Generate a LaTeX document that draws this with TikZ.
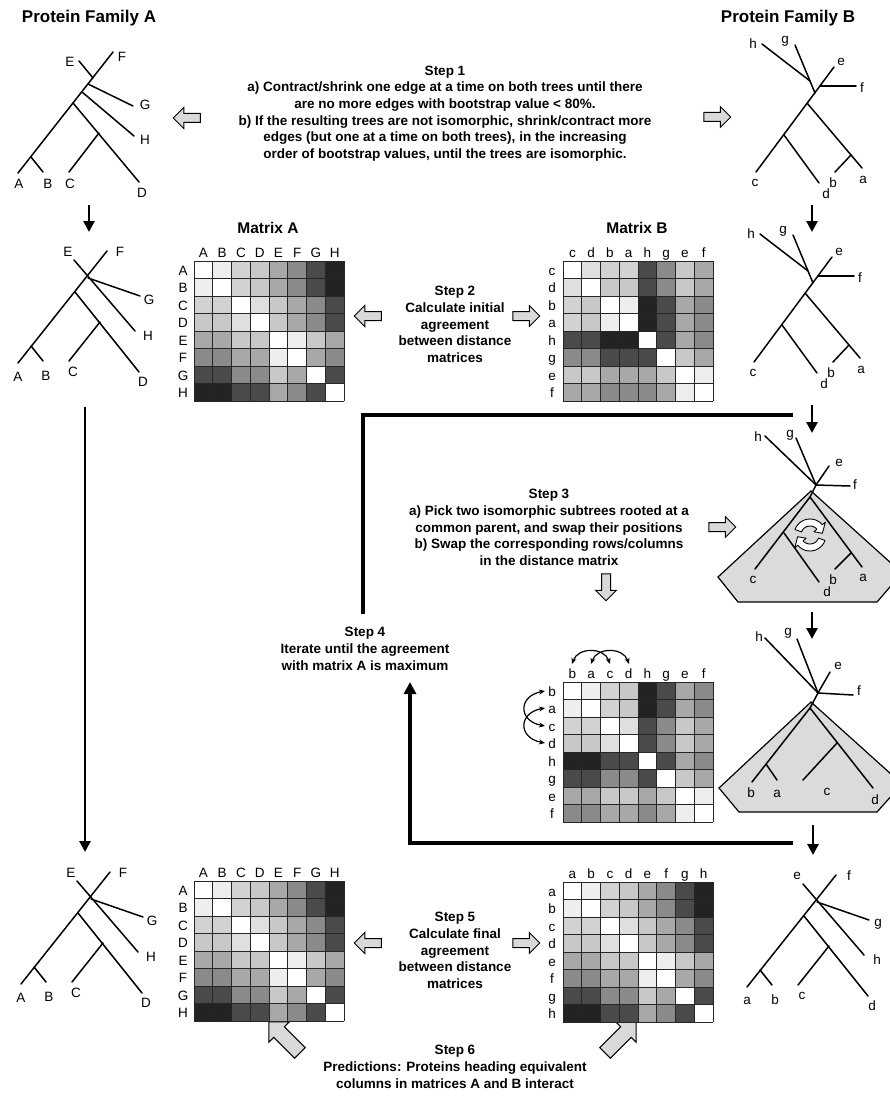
\documentclass[tikz,border=0pt]{standalone}
\usepackage{fontspec}
\setmainfont{Liberation Sans}
\setsansfont{Liberation Sans}
\usetikzlibrary{shapes.arrows,arrows.meta}
\definecolor{lv0}{HTML}{FFFFFF}
\definecolor{lv1}{HTML}{EEEEEE}
\definecolor{lv2}{HTML}{DFDFDF}
\definecolor{lv3}{HTML}{D2D2D2}
\definecolor{lv4}{HTML}{C8C8C8}
\definecolor{lv5}{HTML}{A8A8A8}
\definecolor{lv6}{HTML}{8A8A8A}
\definecolor{lv7}{HTML}{4A4A4A}
\definecolor{lv8}{HTML}{232323}
\tikzset{
 br/.style={line width=1.5pt, line cap=round},
 tl/.style={font=\fontsize{13.5}{15}\selectfont, inner sep=0pt},
 mlab/.style={font=\fontsize{13.5}{15}\selectfont, inner sep=0pt},
 txt/.style={font=\bfseries\fontsize{13.5}{16.7}\selectfont, align=center, inner sep=0pt},
 ttl/.style={font=\bfseries\fontsize{17}{19}\selectfont, inner sep=0pt},
 mttl/.style={font=\bfseries\fontsize{15.5}{17}\selectfont, inner sep=0pt},
 flow/.style={line width=2.8pt, -{Triangle[width=11pt,length=11pt]}},
 loopl/.style={line width=3.5pt},
 gridl/.style={line width=1pt, draw=black!85},
 blk/.style={single arrow, draw=black, line width=1pt, fill=black!15, inner sep=4pt, minimum height=27pt, single arrow head extend=6pt, anchor=center},
 bigblk/.style={blk, inner sep=7pt, minimum height=44pt, single arrow head extend=7pt},
 poly/.style={draw=black, line width=1.2pt, fill=black!14, line join=miter},
 swp/.style={draw=black, line width=0.9pt, fill=white, line join=round},
 sarr/.style={line width=1.2pt, {Stealth[length=6pt,width=5pt]}-{Stealth[length=6pt,width=5pt]}},
}
\newcommand{\drawmat}[6]{%
  \foreach \r [count=\i from 0] in {#6} {
    \foreach \v [count=\j from 0] in \r {
      \fill[fill=lv\v] ({#2+\j*18.75},{#3+\i*17.5}) rectangle ++(18.75,17.5);
    }
  }
  \foreach \k in {0,...,8} {
    \draw[gridl] ({#2+\k*18.75},#3) -- ++(0,140);
    \draw[gridl] (#2,{#3+\k*17.5}) -- ++(150,0);
  }
  \foreach \l [count=\j from 0] in {#4} {
    \node[mlab, anchor=base] (#1c\j) at ({#2+\j*18.75+9.375},{#3-3.5}) {\l};
  }
  \foreach \l [count=\i from 0] in {#5} {
    \node[mlab, anchor=base] (#1r\i) at ({#2-11},{#3+\i*17.5+8.75+5.5}) {\l};
  }
}
\newcommand{\finaltree}[9]{%
  \draw[br] (0,0) -- (-89,112);
  \draw[br] (-33,9) -- (28,80);
  \draw[br] (-19,27) -- (33,45);
  \draw[br] (-32,41) -- (32,121);
  \draw[br] (-7,71) -- (-38,110);
  \draw[br] (-76,95) -- (-64,110);
  \node[tl] (#1a) at (-89,126) {#2};
  \node[tl] (#1b) at (-61,125) {#3};
  \node[tl] (#1c) at (-34,121) {#4};
  \node[tl] (#1d) at (36,131) {#5};
  \node[tl] (#1e) at (-39,1) {#6};
  \node[tl] (#1f) at (13,1) {#7};
  \node[tl] (#1g) at (42,49) {#8};
  \node[tl] (#1h) at (41,85) {#9};
}
\newcommand{\topBtree}[1]{%
  \draw[br] (834,67) -- (756,172);
  \draw[br] (820,86) -- (856,86);
  \draw[br] (795,45) -- (815,93);
  \draw[br] (762,44) -- (810,81);
  \draw[br] (807,103) -- (862,168);
  \draw[br] (784,135) -- (819,183);
  \draw[br] (851,155) -- (835,172);
  \node[tl] (#1h) at (753,44) {h};
  \node[tl] (#1g) at (785,41) {g};
  \node[tl] (#1e) at (841,62) {e};
  \node[tl] (#1f) at (862,88) {f};
  \node[tl] (#1c) at (755,183) {c};
  \node[tl] (#1d) at (826,194) {d};
  \node[tl] (#1b) at (833,183) {b};
  \node[tl] (#1a) at (863,180) {a};
}
\begin{document}
\begin{tikzpicture}[x=1pt,y=-1pt]
\useasboundingbox (0,0) rectangle (890,1097);
\fill[white] (0,0) rectangle (890,1097);

% titles
\node[ttl] (tA) at (89,18) {Protein Family A};
\node[ttl] (tB) at (788,18) {Protein Family B};
\node[mttl] (mA) at (268,228) {Matrix A};
\node[mttl] (mB) at (637,228) {Matrix B};

% step texts
\node[txt] (s1) at (445,113.5) {Step 1\\a) Contract/shrink one edge at a time on both trees until there\\are no more edges with bootstrap value {<} 80\%.\\b) If the resulting trees are not isomorphic, shrink/contract more\\edges (but one at a time on both trees), in the increasing\\order of bootstrap values, until the trees are isomorphic.};
\node[txt] (s2) at (455,324.5) {Step 2\\Calculate initial\\agreement\\between distance\\matrices};
\node[txt] (s3) at (549,527.4) {Step 3\\a) Pick two isomorphic subtrees rooted at a\\common parent, and swap their positions\\b) Swap the corresponding rows/columns\\in the distance matrix};
\node[txt] (s4) at (365,649) {Step 4\\Iterate until the agreement\\with matrix A is maximum};
\node[txt] (s5) at (455,950.4) {Step 5\\Calculate final\\agreement\\between distance\\matrices};
\node[txt] (s6) at (455,1067) {Step 6\\Predictions: Proteins heading equivalent\\columns in matrices A and B interact};

% block arrows
\node[blk, shape border rotate=180] (b1l) at (189,118) {};
\node[blk] (b1r) at (715,117) {};
\node[blk, shape border rotate=180] (b2l) at (370,316) {};
\node[blk] (b2r) at (524,316) {};
\node[blk] (b3r) at (720,527) {};
\node[blk, shape border rotate=270] (b3d) at (606,585) {};
\node[blk, shape border rotate=180] (b5l) at (370,943) {};
\node[blk] (b5r) at (524,943) {};
\node[bigblk, rotate=135] (b6l) at (287,1040) {};
\node[bigblk, rotate=45] (b6r) at (618,1040) {};

% tree A1
\draw[br] (113,52) -- (18,173);
\draw[br] (79,61) -- (93,78);
\draw[br] (88,84) -- (133,106);
\draw[br] (82,92) -- (134,136);
\draw[br] (73,103) -- (139,182);
\draw[br] (99,133) -- (69,172);
\draw[br] (31,157) -- (43,172);
\node[tl] (a1E) at (70,62) {E};
\node[tl] (a1F) at (122,57) {F};
\node[tl] (a1G) at (145,105) {G};
\node[tl] (a1H) at (145,140) {H};
\node[tl] (a1D) at (142,193) {D};
\node[tl] (a1C) at (70,184) {C};
\node[tl] (a1B) at (48,184) {B};
\node[tl] (a1A) at (19,184) {A};

% tree A2
\begin{scope}[shift={(107,251)}]
\finaltree{a2}{A}{B}{C}{D}{E}{F}{G}{H}
\end{scope}
% tree A3
\begin{scope}[shift={(110,872)}]
\finaltree{a3}{A}{B}{C}{D}{E}{F}{G}{H}
\end{scope}
% tree B5
\begin{scope}[shift={(836,875)}]
\finaltree{b5}{a}{b}{c}{d}{e}{f}{g}{h}
\end{scope}

% trees B1, B2
\topBtree{b1}
\begin{scope}[shift={(-2,190)}]
\topBtree{b2}
\end{scope}

% tree B3 with polygon
\draw[poly] (811,491) -- (902,573) -- (877,602) -- (738,602) -- (718,577) -- cycle;
\draw[br] (765,436) -- (816,485);
\draw[br] (796,438) -- (816,485);
\draw[br] (829,466) -- (816,485);
\draw[br] (816,485) -- (850,486);
\draw[br] (816,485) -- (810,497);
\draw[br] (810,497) -- (755,569);
\draw[br] (810,497) -- (862,567);
\draw[br] (784,533) -- (819,582);
\draw[br] (851,553) -- (835,569);
\node[tl] (b3h) at (758,437) {h};
\node[tl] (b3g) at (790,435) {g};
\node[tl] (b3e) at (839,463) {e};
\node[tl] (b3f) at (855,485) {f};
\node[tl] (b3c) at (753,580) {c};
\node[tl] (b3d) at (827,592) {d};
\node[tl] (b3b) at (833,580) {b};
\node[tl] (b3a) at (863,578) {a};
% swap symbol
\begin{scope}[shift={(810,535)}]
\draw[swp] plot[domain=200:320,samples=13] ({16*cos(\x)},{16*sin(\x)}) -- (320:20) -- (352:12.5) -- (320:5) -- plot[domain=320:200,samples=13] ({9*cos(\x)},{9*sin(\x)}) -- cycle;
\draw[swp] plot[domain=20:140,samples=13] ({16*cos(\x)},{16*sin(\x)}) -- (140:20) -- (172:12.5) -- (140:5) -- plot[domain=140:20,samples=13] ({9*cos(\x)},{9*sin(\x)}) -- cycle;
\end{scope}

% tree B4 with polygon
\draw[poly] (811,702) -- (902,784) -- (877,812) -- (739,812) -- (719,788) -- cycle;
\draw[br] (765,638) -- (818,693);
\draw[br] (797,639) -- (818,693);
\draw[br] (830,672) -- (818,693);
\draw[br] (818,693) -- (853,695);
\draw[br] (818,693) -- (810,708);
\draw[br] (810,708) -- (752,782);
\draw[br] (810,708) -- (873,788);
\draw[br] (766,764) -- (777,780);
\draw[br] (837,743) -- (803,780);
\node[tl] (b4h) at (759,637) {h};
\node[tl] (b4g) at (788,633) {g};
\node[tl] (b4e) at (838,666) {e};
\node[tl] (b4f) at (859,691) {f};
\node[tl] (b4b) at (751,793) {b};
\node[tl] (b4a) at (777,794) {a};
\node[tl] (b4c) at (827,792) {c};
\node[tl] (b4d) at (875,800) {d};

% matrices
\drawmat{MA}{194}{261}{A,B,C,D,E,F,G,H}{A,B,C,D,E,F,G,H}{{0,1,3,4,5,6,7,8},{1,0,3,4,5,6,7,8},{3,3,0,2,4,5,6,7},{4,4,2,0,4,5,6,7},{5,5,4,4,0,1,4,5},{6,6,5,5,1,0,5,6},{7,7,6,6,4,5,0,7},{8,8,7,7,5,6,7,0}}
\drawmat{MB}{563}{261}{c,d,b,a,h,g,e,f}{c,d,b,a,h,g,e,f}{{0,2,3,3,7,6,4,5},{2,0,4,4,7,6,4,5},{3,4,0,1,8,7,5,6},{3,4,1,0,8,7,5,6},{7,7,8,8,0,7,5,6},{6,6,7,7,7,0,4,5},{4,4,5,5,5,4,0,1},{5,5,6,6,6,5,1,0}}
\drawmat{MM}{563}{682}{b,a,c,d,h,g,e,f}{b,a,c,d,h,g,e,f}{{0,1,3,4,8,7,5,6},{1,0,3,4,8,7,5,6},{3,3,0,2,7,6,4,5},{4,4,2,0,7,6,4,5},{8,8,7,7,0,7,5,6},{7,7,6,6,7,0,4,5},{5,5,4,4,5,4,0,1},{6,6,5,5,6,5,1,0}}
\drawmat{MF}{194}{881}{A,B,C,D,E,F,G,H}{A,B,C,D,E,F,G,H}{{0,1,3,4,5,6,7,8},{1,0,3,4,5,6,7,8},{3,3,0,2,4,5,6,7},{4,4,2,0,4,5,6,7},{5,5,4,4,0,1,4,5},{6,6,5,5,1,0,5,6},{7,7,6,6,4,5,0,7},{8,8,7,7,5,6,7,0}}
\drawmat{MG}{563}{882}{a,b,c,d,e,f,g,h}{a,b,c,d,e,f,g,h}{{0,1,3,4,5,6,7,8},{1,0,3,4,5,6,7,8},{3,3,0,2,4,5,6,7},{4,4,2,0,4,5,6,7},{5,5,4,4,0,1,4,5},{6,6,5,5,1,0,5,6},{7,7,6,6,4,5,0,7},{8,8,7,7,5,6,7,0}}

% swap arrows on middle matrix
\draw[sarr] (572,664) .. controls (578,647) and (604,647) .. (610,664);
\draw[sarr] (591,664) .. controls (597,647) and (623,647) .. (629,664);
\draw[sarr] (545,691) .. controls (518,696) and (518,721) .. (545,726);
\draw[sarr] (545,708) .. controls (518,713) and (518,738) .. (545,743);

% flow arrows
\coordinate (fa1) at (89,205); \coordinate (fa2) at (89,232);
\coordinate (fl1) at (85,407); \coordinate (fl2) at (85,852);
\coordinate (fb1) at (812,205); \coordinate (fb2) at (812,232);
\coordinate (fb3) at (812,405); \coordinate (fb4) at (812,433);
\coordinate (fb5) at (812,612); \coordinate (fb6) at (812,639);
\coordinate (fb7) at (813,825); \coordinate (fb8) at (813,855);
\draw[flow] (fa1) -- (fa2);
\draw[flow] (fl1) -- (fl2);
\draw[flow] (fb1) -- (fb2);
\draw[flow] (fb3) -- (fb4);
\draw[flow] (fb5) -- (fb6);
\draw[flow] (fb7) -- (fb8);

% loop lines
\coordinate (la) at (363,614); \coordinate (lb) at (363,415); \coordinate (lc) at (793,415);
\draw[loopl] (la) -- (lb) -- (lc);
\coordinate (ld) at (793,843); \coordinate (le) at (410,843); \coordinate (lf) at (410,682);
\draw[loopl, -{Triangle[width=12pt,length=12pt]}] (ld) -- (le) -- (lf);
\end{tikzpicture}
\end{document}
